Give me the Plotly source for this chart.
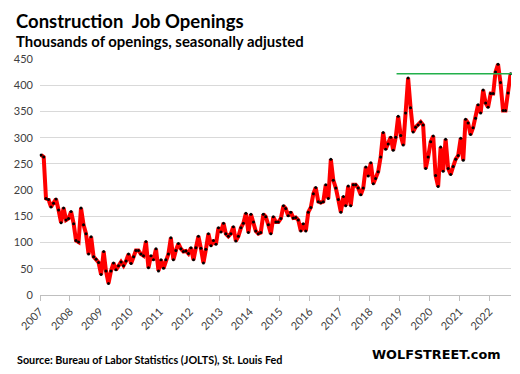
import plotly.graph_objects as go
import pandas as pd

# Monthly construction job openings (thousands), Jan 2007 - Sep 2022
v2007 = [267, 263, 184, 182, 168, 175, 183, 162, 138, 166, 143, 146]
v2008 = [159, 136, 104, 101, 166, 134, 117, 78, 111, 73, 68, 62]
v2009 = [39, 83, 46, 22, 46, 61, 48, 56, 63, 56, 65, 78]
v2010 = [60, 73, 85, 85, 78, 75, 102, 52, 75, 67, 88, 46]
v2011 = [67, 51, 67, 78, 109, 67, 85, 98, 88, 83, 84, 79]
v2012 = [90, 67, 90, 112, 89, 61, 87, 117, 94, 104, 97, 128]
v2013 = [120, 137, 117, 112, 117, 130, 103, 112, 128, 137, 156, 119]
v2014 = [154, 139, 122, 117, 119, 154, 149, 134, 117, 149, 139, 139]
v2015 = [146, 170, 165, 151, 158, 147, 148, 143, 122, 136, 122, 158]
v2016 = [167, 193, 205, 178, 176, 178, 210, 184, 259, 219, 204, 182]
v2017 = [158, 188, 170, 208, 170, 210, 210, 204, 191, 204, 244, 227]
v2018 = [252, 212, 222, 235, 263, 310, 278, 288, 301, 276, 301, 341]
v2019 = [304, 286, 347, 414, 357, 311, 320, 324, 330, 324, 241, 263]
v2020 = [292, 303, 228, 207, 282, 236, 297, 241, 230, 245, 259, 266]
v2021 = [299, 257, 335, 328, 306, 319, 337, 363, 347, 391, 366, 358]
v2022 = [384, 384, 425, 440, 405, 352, 352, 385, 422]

values = (v2007 + v2008 + v2009 + v2010 + v2011 + v2012 + v2013 + v2014 +
          v2015 + v2016 + v2017 + v2018 + v2019 + v2020 + v2021 + v2022)
dates = [d + pd.Timedelta(days=14) for d in pd.date_range("2007-01-01", periods=len(values), freq="MS")]
date_str = [d.strftime("%Y-%m-%d") for d in dates]

year_ticks = [str(y) for y in range(2007, 2023)]
y_ticks = [0, 50, 100, 150, 200, 250, 300, 350, 400, 450]

ref_level = 422
ref_start = "2018-11-25"

x_start = pd.Timestamp("2007-01-01")
x_end = pd.Timestamp("2022-09-20")

fig = go.Figure()
fig.add_trace(go.Scatter(
    x=date_str, y=values, mode="lines+markers",
    line=dict(color="#ff0000", width=4),
    marker=dict(color="#000000", size=3),
    cliponaxis=False,
))

ref_x0 = (pd.Timestamp(ref_start) - x_start) / (x_end - x_start)
fig.add_shape(type="line", xref="paper", yref="y",
              x0=ref_x0, x1=1.015, y0=ref_level, y1=ref_level,
              line=dict(color="#22b04b", width=1.5))

font_main = "Lato, 'Open Sans', sans-serif"

fig.update_layout(
    width=512, height=366,
    margin=dict(l=32, r=9, t=51, b=79),
    paper_bgcolor="white", plot_bgcolor="white",
    showlegend=False,
    font=dict(family=font_main, color="#404040", size=11),
    xaxis=dict(
        type="date",
        range=[x_start.strftime("%Y-%m-%d"), x_end.strftime("%Y-%m-%d")],
        autorange=False,
        automargin=False,
        tickmode="array",
        tickvals=[f"{y}-01-01" for y in year_ticks],
        ticktext=year_ticks,
        tickangle=-45,
        ticks="outside", ticklen=5, tickcolor="#bfbfbf",
        showline=True, linecolor="#bfbfbf", linewidth=1,
        showgrid=False, zeroline=False,
        tickfont=dict(size=11, color="#404040"),
    ),
    yaxis=dict(
        range=[0, 450],
        autorange=False,
        automargin=False,
        tickmode="array", tickvals=y_ticks,
        showgrid=True, gridcolor="#d9d9d9", gridwidth=1,
        zeroline=False, showline=False,
        ticklabelstandoff=6,
        tickfont=dict(size=11, color="#404040"),
    ),
    annotations=[
        dict(text="<b>Construction  Job Openings</b>", xref="paper", yref="paper",
             x=-0.055, y=1.16, xanchor="left", yanchor="middle", showarrow=False,
             font=dict(size=18.5, color="#000000", family=font_main)),
        dict(text="<b>Thousands of openings, seasonally adjusted</b>", xref="paper", yref="paper",
             x=-0.055, y=1.075, xanchor="left", yanchor="middle", showarrow=False,
             font=dict(size=14.9, color="#000000", family=font_main)),
        dict(text="<b>Source: Bureau of Labor Statistics (JOLTS), St. Louis Fed</b>",
             xref="paper", yref="paper", x=-0.053, y=-0.272, xanchor="left", yanchor="middle",
             showarrow=False, font=dict(size=10.8, color="#000000", family=font_main)),
        dict(text="<b>WOLFSTREET.com</b>", xref="paper", yref="paper",
             x=0.983, y=-0.25, xanchor="right", yanchor="middle", showarrow=False,
             font=dict(size=12.8, color="#000000", family="'DejaVu Sans', sans-serif")),
    ],
)

fig.write_html("out.html")
